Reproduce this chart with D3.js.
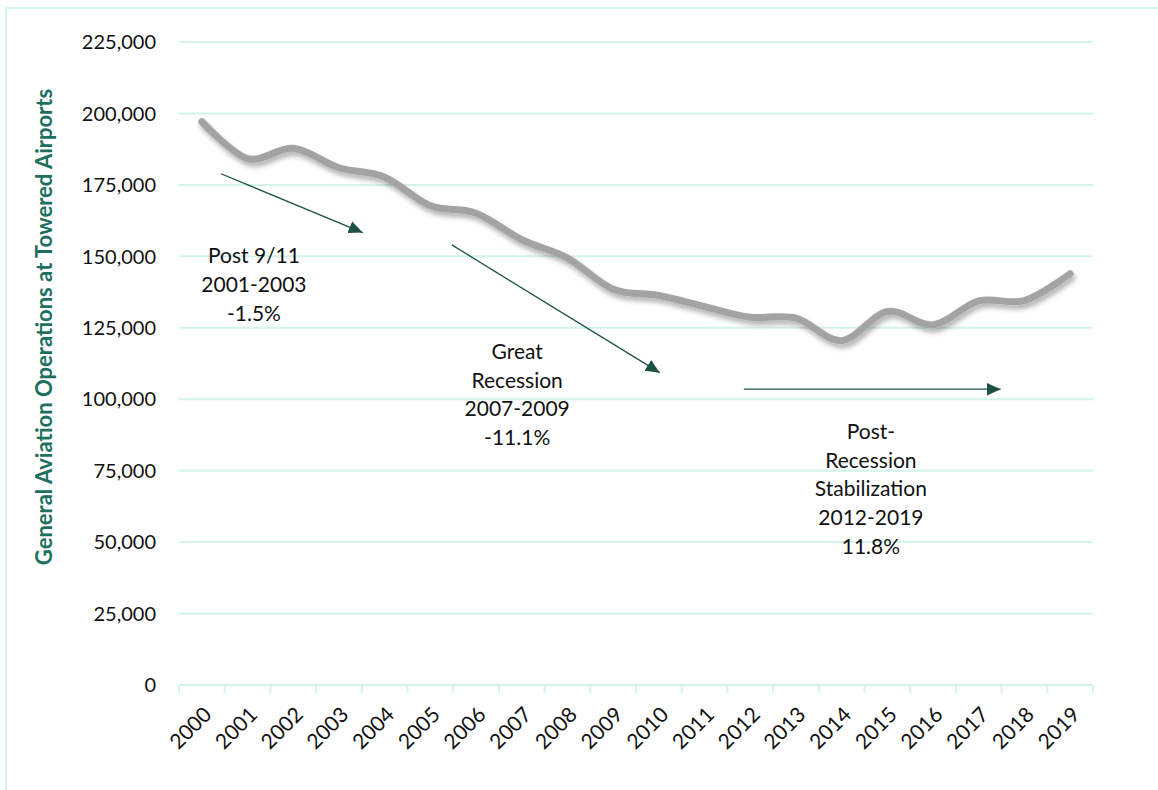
<!DOCTYPE html>
<html lang="en">
<head>
<meta charset="utf-8">
<title>General Aviation Operations at Towered Airports</title>
<script src="https://cdnjs.cloudflare.com/ajax/libs/d3/7.8.5/d3.min.js"></script>
<style>
  body { margin: 0; background: #fff; }
  svg { font-family: Lato, "Open Sans", sans-serif; }
  .grid line { stroke: #d3f3ed; stroke-width: 2; }
  .tick-label { font-size: 20px; fill: #111; }
  .year-label { font-size: 21px; fill: #111; }
  .note { font-size: 21px; fill: #111; text-anchor: middle; }
</style>
</head>
<body>
<div id="chart"></div>
<script>
// chart data
var years = ["2000","2001","2002","2003","2004","2005","2006","2007","2008","2009",
             "2010","2011","2012","2013","2014","2015","2016","2017","2018","2019"];
var operations = [197100, 184200, 187800, 181000, 177700, 167700, 165100, 155800, 149400, 138500,
                  136300, 132400, 128700, 128400, 120500, 130700, 126000, 134400, 134500, 143900];
var yTicks = [0, 25000, 50000, 75000, 100000, 125000, 150000, 175000, 200000, 225000];

// annotation arrows (x as year index, y as value)
var arrows = [
  { from: [0.42, 178900], to: [3.52, 158300] },
  { from: [5.47, 154000], to: [10.02, 109300] },
  { from: [11.86, 103500], to: [17.48, 103500] }
];
var notes = [
  { x: 1.14, y: 150200, lines: ["Post 9/11", "2001-2003", "-1.5%"] },
  { x: 6.90, y: 116700, lines: ["Great", "Recession", "2007-2009", "-11.1%"] },
  { x: 14.64, y: 88700, lines: ["Post-", "Recession", "Stabilization", "2012-2019", "11.8%"] }
];

var W = 1158, H = 790;
var margin = { top: 42, right: 65, bottom: 105, left: 179 };
var iw = W - margin.left - margin.right;
var ih = H - margin.top - margin.bottom;

var svg = d3.select("#chart").append("svg")
  .attr("width", W).attr("height", H);

// outer chart border
svg.append("rect")
  .attr("x", 6).attr("y", 8)
  .attr("width", W + 20).attr("height", H + 20)
  .attr("fill", "none").attr("stroke", "#d3f3ed").attr("stroke-width", 2);

var defs = svg.append("defs");
var f = defs.append("filter").attr("id", "shadow")
  .attr("x", "-10%").attr("y", "-10%").attr("width", "130%").attr("height", "140%");
f.append("feDropShadow").attr("dx", 2).attr("dy", 4).attr("stdDeviation", 2.5)
  .attr("flood-color", "#000").attr("flood-opacity", 0.3);
defs.append("marker").attr("id", "arrow")
  .attr("viewBox", "0 0 10 10").attr("refX", 10).attr("refY", 5)
  .attr("markerWidth", 14).attr("markerHeight", 14)
  .attr("markerUnits", "userSpaceOnUse")
  .attr("orient", "auto")
  .append("path").attr("d", "M0,0.5 L10,5 L0,9.5 Z").attr("fill", "#1b5245");

var g = svg.append("g").attr("transform", "translate(" + margin.left + "," + margin.top + ")");

var x = d3.scaleBand().domain(years).range([0, iw]).padding(0);
var xi = d3.scaleLinear().domain([-0.5, years.length - 0.5]).range([0, iw]);
var y = d3.scaleLinear().domain([0, 225000]).range([ih, 0]);

// gridlines
g.append("g").attr("class", "grid")
  .selectAll("line").data(yTicks.filter(function (d) { return d > 0; }))
  .join("line")
  .attr("x1", 0).attr("x2", iw)
  .attr("y1", function (d) { return y(d); }).attr("y2", function (d) { return y(d); });

// y tick labels
g.append("g").selectAll("text").data(yTicks).join("text")
  .attr("class", "tick-label")
  .attr("x", -23).attr("y", function (d) { return y(d); })
  .attr("dy", "0.36em").attr("text-anchor", "end")
  .text(function (d) { return d3.format(",")(d); });

// x axis line with tick marks at band edges
var xAxis = g.append("g").attr("transform", "translate(0," + ih + ")");
xAxis.append("line").attr("x1", 0).attr("x2", iw)
  .attr("stroke", "#d3f3ed").attr("stroke-width", 2);
xAxis.selectAll("line.tk").data(d3.range(years.length + 1)).join("line")
  .attr("class", "tk")
  .attr("x1", function (d) { return xi(d - 0.5); }).attr("x2", function (d) { return xi(d - 0.5); })
  .attr("y1", 0).attr("y2", 8)
  .attr("stroke", "#d3f3ed").attr("stroke-width", 2);
xAxis.selectAll("text").data(years).join("text")
  .attr("class", "year-label")
  .attr("text-anchor", "end")
  .attr("transform", function (d) {
    return "translate(" + (x(d) + x.bandwidth() / 2 + 11) + ",31) rotate(-45)";
  })
  .text(function (d) { return d; });

// y axis title
svg.append("text")
  .attr("transform", "translate(52,327) rotate(-90)")
  .attr("text-anchor", "middle")
  .attr("font-size", 22).attr("font-weight", "bold").attr("fill", "#1d7060")
  .text("General Aviation Operations at Towered Airports");

// main line
var line = d3.line()
  .x(function (d, i) { return x(years[i]) + x.bandwidth() / 2; })
  .y(function (d) { return y(d); })
  .curve(d3.curveCardinal.tension(0));

g.append("path")
  .datum(operations)
  .attr("d", line)
  .attr("fill", "none")
  .attr("stroke", "#a3a3a3")
  .attr("stroke-width", 7)
  .attr("stroke-linecap", "round")
  .attr("filter", "url(#shadow)");

// arrows
g.selectAll("line.arrow").data(arrows).join("line")
  .attr("class", "arrow")
  .attr("x1", function (d) { return xi(d.from[0]); })
  .attr("y1", function (d) { return y(d.from[1]); })
  .attr("x2", function (d) { return xi(d.to[0]); })
  .attr("y2", function (d) { return y(d.to[1]); })
  .attr("stroke", "#1b5245").attr("stroke-width", 1.3)
  .attr("marker-end", "url(#arrow)");

// notes
var nt = g.selectAll("text.note").data(notes).join("text")
  .attr("class", "note")
  .attr("x", function (d) { return xi(d.x); })
  .attr("y", function (d) { return y(d.y); });
nt.selectAll("tspan").data(function (d) {
    return d.lines.map(function (l) { return { t: l, x: xi(d.x) }; });
  }).join("tspan")
  .attr("x", function (d) { return d.x; })
  .attr("dy", function (d, i) { return i === 0 ? "0.36em" : "28.7px"; })
  .text(function (d) { return d.t; });
</script>
</body>
</html>
